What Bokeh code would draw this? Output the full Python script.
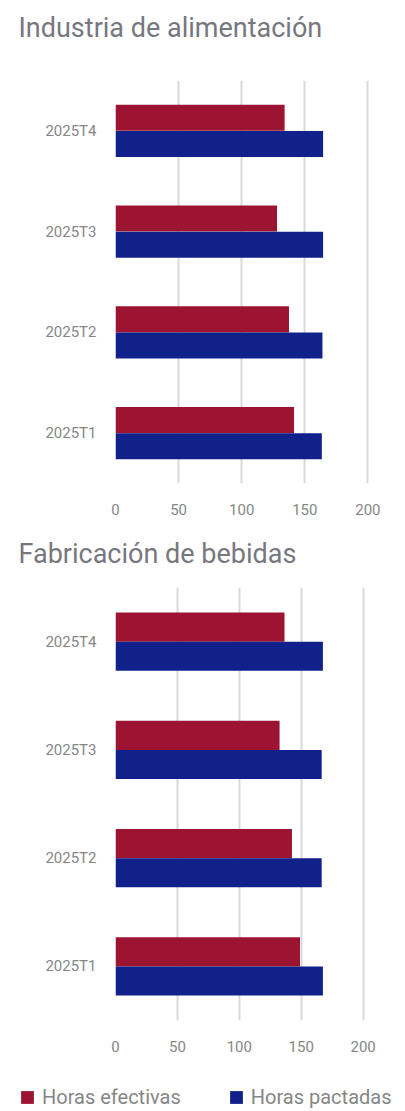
from bokeh.plotting import figure
from bokeh.models import FactorRange, Range1d, FixedTicker, Label
from bokeh.transform import dodge
from bokeh.layouts import column, row
from bokeh.embed import file_html
from bokeh.resources import INLINE

categories = ["2025T1", "2025T2", "2025T3", "2025T4"]
ticks = [0, 50, 100, 150, 200]

alim_efectivas = [141.5, 137.5, 128.0, 134.0]
alim_pactadas = [163.5, 164.0, 164.5, 164.5]

beb_efectivas = [149.0, 142.5, 132.5, 136.5]
beb_pactadas = [167.5, 166.5, 166.5, 167.5]

titles = ["Industria de alimentación", "Fabricación de bebidas"]
series_names = ["Horas efectivas", "Horas pactadas"]

RED = "#9c1431"
BLUE = "#10218b"
FONT = "Roboto"
TXT = "#868686"
TITLE_C = "#77777f"
W = 400
BL = 115
BR = 8


def blank_fig(h, w=W):
    p = figure(width=w, height=h, x_range=Range1d(0, w), y_range=Range1d(0, h),
               x_axis_type=None, y_axis_type=None, min_border=0,
               toolbar_location=None, output_backend="svg")
    p.outline_line_color = None
    p.xgrid.grid_line_color = None
    p.ygrid.grid_line_color = None
    return p


def title_fig(text, h, baseline):
    p = blank_fig(h)
    p.add_layout(Label(x=18, y=baseline, text=text, text_font=FONT,
                       text_font_size="27px", text_color=TITLE_C,
                       text_baseline="alphabetic", text_align="left"))
    return p


def make_chart(efectivas, pactadas, h, x_end, bt, bb, bar_h):
    p = figure(
        y_range=FactorRange(*categories),
        x_range=Range1d(0, x_end),
        width=W, height=h,
        min_border_left=BL, min_border_right=BR,
        min_border_top=bt, min_border_bottom=bb,
        toolbar_location=None, output_backend="svg",
    )
    p.outline_line_color = None
    src = dict(cat=categories, ef=efectivas, pa=pactadas)
    p.hbar(y=dodge("cat", bar_h / 2, range=p.y_range), right="ef", left=0, height=bar_h,
           color=RED, line_color=None, source=src)
    p.hbar(y=dodge("cat", -bar_h / 2, range=p.y_range), right="pa", left=0, height=bar_h,
           color=BLUE, line_color=None, source=src)

    p.xaxis.ticker = FixedTicker(ticks=ticks)
    for ax in (p.xaxis[0], p.yaxis[0]):
        ax.axis_line_color = None
        ax.major_tick_line_color = None
        ax.minor_tick_line_color = None
        ax.major_tick_out = 0
        ax.major_tick_in = 0
        ax.major_label_text_font = FONT
        ax.major_label_text_font_size = "15px"
        ax.major_label_text_color = TXT
    p.xaxis.major_label_standoff = 20
    p.yaxis.major_label_standoff = 19
    p.xgrid.grid_line_color = "#d9d9d9"
    p.xgrid.grid_line_width = 2
    p.ygrid.grid_line_color = None
    return p


t1 = title_fig(titles[0], 52, 25)
c1 = make_chart(alim_efectivas, alim_pactadas, h=470, x_end=219.5, bt=28, bb=39, bar_h=0.26)
t2 = title_fig(titles[1], 50, 19)
c2 = make_chart(beb_efectivas, beb_pactadas, h=488, x_end=223.7, bt=15, bb=40, bar_h=0.27)

# legend-only figure: the two swatch renderers sit outside the visible range
lf = blank_fig(51, 405)
swatch = dict(y=[-100], right=[1])
lf.hbar(y="y", right="right", left=0, height=1, color=RED, line_color=None,
        source=swatch, legend_label=series_names[0])
lf.hbar(y="y", right="right", left=0, height=1, color=BLUE, line_color=None,
        source=dict(swatch), legend_label=series_names[1])
lg = lf.legend[0]
lg.location = (19, 2)
lg.orientation = "horizontal"
lg.padding = 0
lg.margin = 0
lg.spacing = 47
lg.border_line_color = None
lg.background_fill_alpha = 0
lg.glyph_width = 16
lg.glyph_height = 16
lg.label_standoff = 7
lg.label_text_font = FONT
lg.label_text_font_size = "20px"
lg.label_text_color = TXT

layout = column(row(t1), c1, row(t2), c2, row(lf), spacing=0)
open("out.html", "w").write(file_html(layout, INLINE))
